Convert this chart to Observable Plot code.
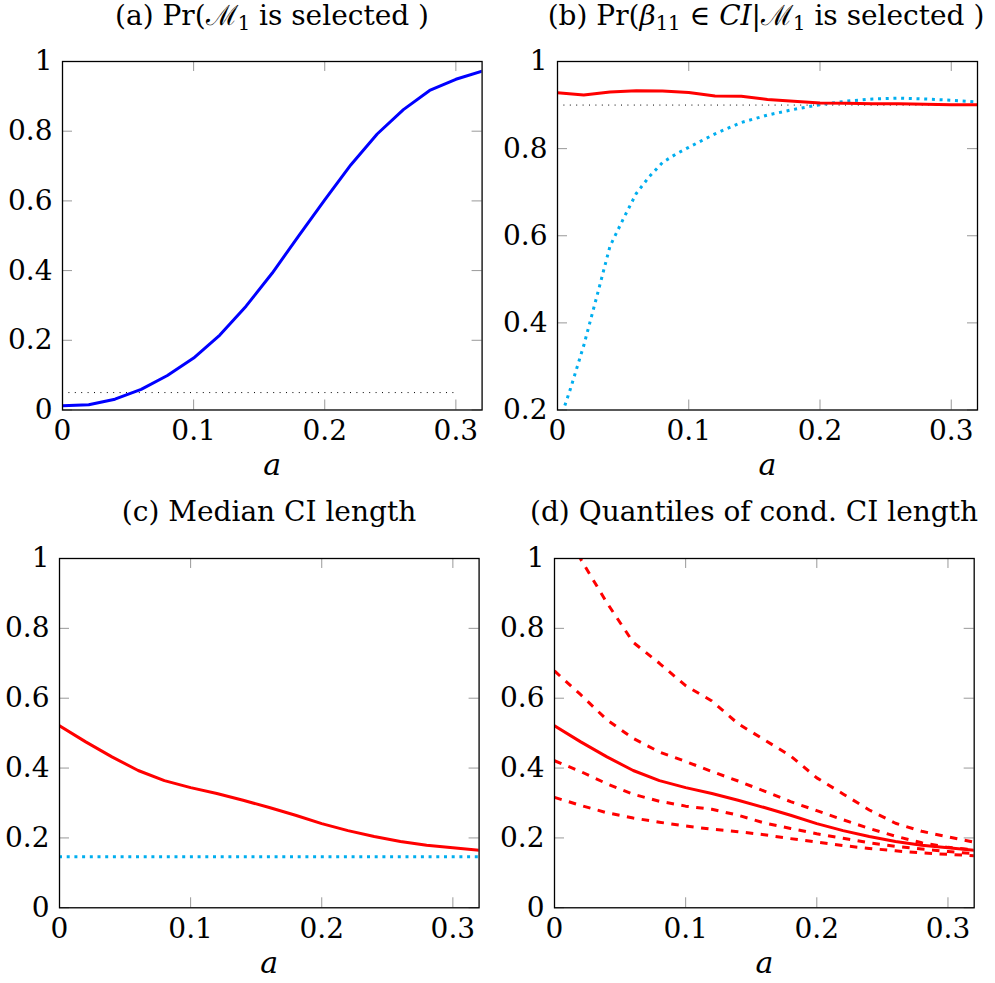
<!DOCTYPE html>
<html><head><meta charset="utf-8">
<script src="https://cdn.jsdelivr.net/npm/d3@7"></script>
<script src="https://cdn.jsdelivr.net/npm/@observablehq/plot@0.6"></script>
<style>
body{margin:0;background:#fff;}
#root{position:relative;width:995px;height:983px;font-family:"DejaVu Serif";color:#000;overflow:hidden;}
.ttl{position:absolute;font-size:28px;white-space:nowrap;transform:translateX(-50%);line-height:1;}
.ttl sub{font-size:0.7em;vertical-align:-0.25em;line-height:0;}
</style></head><body><div id="root"></div>
<script>
// ---- data ----
const aGrid = [0,0.02,0.04,0.06,0.08,0.10,0.12,0.14,0.16,0.18,0.20,0.22,0.24,0.26,0.28,0.30,0.32];
// (a) Pr(M1 is selected)
const probSelected = [0.012,0.015,0.031,0.059,0.099,0.149,0.215,0.298,0.393,0.499,0.603,0.704,0.792,0.862,0.917,0.949,0.972];
const levelA = 0.05;
// (b) coverage
const coverCond = [0.928,0.923,0.930,0.933,0.932,0.929,0.921,0.920,0.913,0.909,0.905,0.904,0.903,0.903,0.902,0.901,0.901];
const aNaive = [0,0.01,0.02,0.03,0.04,0.05,0.06,0.07,0.08,0.09,0.10,0.12,0.14,0.16,0.18,0.20,0.22,0.24,0.26,0.28,0.30,0.32];
const coverNaive = [0.16,0.25,0.348,0.461,0.576,0.638,0.697,0.736,0.768,0.787,0.803,0.834,0.860,0.877,0.890,0.901,0.909,0.914,0.916,0.914,0.911,0.907];
const levelB = 0.9;
const refRange = [0, 0.3];
// (c) median CI length
const medianLen = [0.521,0.475,0.432,0.393,0.364,0.344,0.327,0.308,0.287,0.265,0.241,0.221,0.204,0.190,0.179,0.172,0.165];
const naiveMedianLen = 0.146;
// (d) quantiles of conditional CI length
const qTop    = [1.17,0.998,0.873,0.760,0.700,0.636,0.592,0.527,0.481,0.435,0.372,0.326,0.280,0.242,0.219,0.203,0.188];
const qUpper  = [0.678,0.610,0.538,0.485,0.446,0.419,0.390,0.363,0.334,0.304,0.278,0.252,0.227,0.205,0.186,0.173,0.166];
const qLower  = [0.421,0.390,0.355,0.325,0.305,0.291,0.282,0.265,0.243,0.227,0.212,0.199,0.186,0.176,0.168,0.161,0.155];
const qBottom = [0.316,0.293,0.272,0.257,0.245,0.234,0.225,0.218,0.209,0.198,0.188,0.178,0.170,0.163,0.157,0.153,0.149];

const xTicks = [0,0.1,0.2,0.3];
const yTicksFull = [0,0.2,0.4,0.6,0.8,1];
const yTicksB = [0.2,0.4,0.6,0.8,1];
const xLabel = "a";
const titles = [
  {x:272, y:2, html:'(a) Pr(ℳ<sub>1</sub> is selected )'},
  {x:766, y:2, html:'(b) Pr(<i>β</i><sub>11</sub> ∈ <i>CI</i>|ℳ<sub>1</sub> is selected )'},
  {x:269, y:498, html:'(c) Median CI length'},
  {x:754, y:498, html:'(d) Quantiles of cond. CI length'}
];

// ---- styles ----
const RED = "#ff0000", BLUE = "#0000ff", CYAN = "#00aeef";
const FONT = "'DejaVu Serif'";
const fmt = d => String(+d.toFixed(2));
const root = document.getElementById("root");

function panel(frame, yDomain, yTicks, marks) {
  const [x0, x1, y0, y1] = frame;
  const mL = 70, mR = 22, mT = 22, mB = 80;
  const w = x1 - x0, h = y1 - y0, tl = 10, tc = "#999";
  const p = Plot.plot({
    width: mL + w + mR, height: mT + h + mB,
    marginLeft: mL, marginRight: mR, marginTop: mT, marginBottom: mB,
    style: {fontFamily: FONT, fontSize: "28px", background: "transparent", overflow: "visible", color: "#000"},
    x: {domain: [0, 0.32]},
    y: {domain: yDomain},
    marks: [
      Plot.tickX(xTicks, {x: d => d, stroke: tc, strokeWidth: 1, insetTop: h - tl}),
      Plot.tickX(xTicks, {x: d => d, stroke: tc, strokeWidth: 1, insetBottom: h - tl}),
      Plot.tickY(yTicks, {y: d => d, stroke: tc, strokeWidth: 1, insetRight: w - tl}),
      Plot.tickY(yTicks, {y: d => d, stroke: tc, strokeWidth: 1, insetLeft: w - tl}),
      ...marks,
      Plot.frame({stroke: "#000", strokeWidth: 1.3}),
      Plot.axisX(xTicks, {tickSize: 0, tickPadding: 10, tickFormat: fmt, fontSize: 28, label: null}),
      Plot.axisY(yTicks, {tickSize: 0, tickPadding: 10, tickFormat: fmt, fontSize: 28, label: null}),
      Plot.text([xLabel], {frameAnchor: "bottom", text: d => d, dy: 65, fontSize: 30, fontStyle: "italic"})
    ]
  });
  p.style.position = "absolute";
  p.style.left = (x0 - mL) + "px";
  p.style.top = (y0 - mT) + "px";
  root.appendChild(p);
}

const solid = (ys, stroke, xs = aGrid) => Plot.lineY(ys, {x: xs, stroke, strokeWidth: 3, clip: true, curve: "linear"});
const dotted = (ys, xs) => Plot.lineY(ys, {x: xs, stroke: CYAN, strokeWidth: 3, strokeDasharray: "3,4.7", strokeLinecap: "butt", clip: true});
const dashed = ys => Plot.lineY(ys, {x: aGrid, stroke: RED, strokeWidth: 3, strokeDasharray: "7.5,7.5", strokeLinecap: "butt", clip: true});
const refLine = lvl => Plot.ruleY([lvl], {x1: refRange[0], x2: refRange[1], stroke: "#000", strokeWidth: 1, strokeDasharray: "1,5.4"});

panel([62.3, 481.9, 61, 409.5], [0, 1], yTicksFull, [
  refLine(levelA),
  solid(probSelected, BLUE)
]);
panel([557.3, 977.3, 61, 409.5], [0.2, 1], yTicksB, [
  refLine(levelB),
  dotted(coverNaive, aNaive),
  solid(coverCond, RED)
]);
panel([58.7, 478.3, 557.7, 907], [0, 1], yTicksFull, [
  Plot.ruleY([naiveMedianLen], {stroke: CYAN, strokeWidth: 3, strokeDasharray: "3,4.7", strokeLinecap: "butt"}),
  solid(medianLen, RED)
]);
panel([554.3, 974, 557.7, 907], [0, 1], yTicksFull, [
  dashed(qTop), dashed(qUpper), dashed(qLower), dashed(qBottom),
  solid(medianLen, RED)
]);

for (const t of titles) {
  const d = document.createElement("div");
  d.className = "ttl";
  d.style.left = t.x + "px";
  d.style.top = t.y + "px";
  d.innerHTML = t.html;
  root.appendChild(d);
}
</script>
</body></html>
